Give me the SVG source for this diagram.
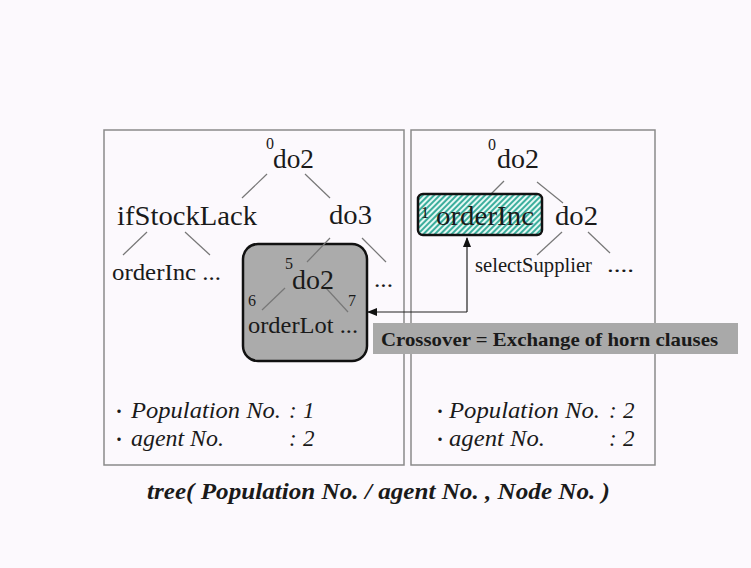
<svg xmlns="http://www.w3.org/2000/svg" width="751" height="568" viewBox="0 0 751 568">
<style>
.t{font-family:"Liberation Serif","Times New Roman",serif;fill:#1a1a1a}
.sup{font-family:"Liberation Serif","Times New Roman",serif;fill:#1a1a1a;font-size:16px}
.frame{fill:none;stroke:#8a8a8a;stroke-width:1.5}
.edge{stroke:#777;stroke-width:1.2;fill:none}
.it{font-family:"Liberation Serif","Times New Roman",serif;font-style:italic;fill:#1a1a1a;font-size:23px}
.dot{font-family:"Noto Sans CJK JP","Liberation Serif",sans-serif;font-style:normal;fill:#1a1a1a;font-size:16px}
</style>
<defs>
<pattern id="hatch" patternUnits="userSpaceOnUse" width="4" height="4" patternTransform="rotate(45)">
<rect width="4" height="4" fill="#e6f8f4"/>
<line x1="1" y1="0" x2="1" y2="4" stroke="#3cae9d" stroke-width="2"/>
</pattern>
<marker id="ah" markerUnits="userSpaceOnUse" markerWidth="10" markerHeight="8" refX="9" refY="4" orient="auto-start-reverse">
<path d="M0,0 L10,4 L0,8 Z" fill="#111"/>
</marker>
</defs>
<rect width="751" height="568" fill="#fcf9fd"/>

<g id="frames">
<rect class="frame" x="104" y="130" width="300" height="335"/>
<rect class="frame" x="411" y="130" width="244" height="335"/>
</g>

<g id="edges">
<line class="edge" x1="267" y1="174" x2="242" y2="198"/>
<line class="edge" x1="305" y1="174" x2="330" y2="198"/>
<line class="edge" x1="147" y1="232" x2="123" y2="255"/>
<line class="edge" x1="185" y1="232" x2="210" y2="255"/>
<line class="edge" x1="362" y1="238" x2="386" y2="262"/>
<line class="edge" x1="504" y1="181" x2="482" y2="203"/>
<line class="edge" x1="537" y1="182" x2="563" y2="203"/>
<line class="edge" x1="562" y1="232" x2="537" y2="255"/>
<line class="edge" x1="588" y1="232" x2="610" y2="253"/>
</g>

<g id="subtree-box">
<rect x="243" y="244" width="124" height="117" rx="15" fill="#ababab" stroke="#111" stroke-width="2.5"/>
<line class="edge" x1="330" y1="238" x2="307" y2="262"/>
<line class="edge" x1="285" y1="288" x2="262" y2="310"/>
<line class="edge" x1="326" y1="288" x2="348" y2="312"/>
<text class="sup" x="285" y="269">5</text>
<text class="t" x="292" y="289" font-size="28" textLength="42" lengthAdjust="spacingAndGlyphs">do2</text>
<text class="sup" x="248" y="306">6</text>
<text class="sup" x="348" y="306">7</text>
<text class="t" x="248" y="333" font-size="23" textLength="110" lengthAdjust="spacingAndGlyphs">orderLot ...</text>
</g>

<g id="left-tree">
<text class="sup" x="266" y="149">0</text>
<text class="t" x="273" y="168" font-size="28" textLength="41" lengthAdjust="spacingAndGlyphs">do2</text>
<text class="t" x="117" y="225" font-size="28" textLength="140" lengthAdjust="spacingAndGlyphs">ifStockLack</text>
<text class="t" x="329" y="224" font-size="28" textLength="43" lengthAdjust="spacingAndGlyphs">do3</text>
<text class="t" x="112" y="280" font-size="24" textLength="109" lengthAdjust="spacingAndGlyphs">orderInc ...</text>
<text class="t" x="374" y="287" font-size="24" textLength="19" lengthAdjust="spacingAndGlyphs">...</text>
</g>

<g id="right-tree">
<text class="sup" x="488" y="150">0</text>
<text class="t" x="497" y="168" font-size="28" textLength="42" lengthAdjust="spacingAndGlyphs">do2</text>
<g id="orderInc-node">
<rect x="418" y="194" width="124" height="41" rx="5" fill="url(#hatch)" stroke="#111" stroke-width="2.5"/>
<text class="sup" x="421" y="218">1</text>
<text class="t" x="436" y="225" font-size="28" textLength="98" lengthAdjust="spacingAndGlyphs">orderInc</text>
</g>
<text class="t" x="555" y="225" font-size="28" textLength="43" lengthAdjust="spacingAndGlyphs">do2</text>
<text class="t" x="475" y="272" font-size="21" textLength="117" lengthAdjust="spacingAndGlyphs">selectSupplier</text>
<text class="t" x="607" y="272" font-size="21" textLength="27" lengthAdjust="spacingAndGlyphs">....</text>
</g>

<g id="connectors">
<path d="M467,312 V238" fill="none" stroke="#222" stroke-width="1.2" marker-end="url(#ah)"/>
<path d="M467,312 H368" fill="none" stroke="#222" stroke-width="1.2" marker-end="url(#ah)"/>
</g>

<g id="crossover-label">
<rect x="373" y="323" width="365" height="31" fill="#a9a9a9"/>
<text class="t" x="381" y="346" font-size="19" font-weight="bold" textLength="337" lengthAdjust="spacingAndGlyphs">Crossover = Exchange of horn clauses</text>
</g>

<g id="left-info">
<text class="dot" x="111" y="417">・</text>
<text class="it" x="131" y="418" textLength="150" lengthAdjust="spacingAndGlyphs">Population No.</text>
<text class="it" x="289" y="418">:</text>
<text class="it" x="303" y="418">1</text>
<text class="dot" x="111" y="445">・</text>
<text class="it" x="131" y="446" textLength="93" lengthAdjust="spacingAndGlyphs">agent No.</text>
<text class="it" x="289" y="446">:</text>
<text class="it" x="303" y="446">2</text>
</g>

<g id="right-info">
<text class="dot" x="432" y="417">・</text>
<text class="it" x="449" y="418" textLength="151" lengthAdjust="spacingAndGlyphs">Population No.</text>
<text class="it" x="609" y="418">:</text>
<text class="it" x="623" y="418">2</text>
<text class="dot" x="432" y="445">・</text>
<text class="it" x="449" y="446" textLength="96" lengthAdjust="spacingAndGlyphs">agent No.</text>
<text class="it" x="609" y="446">:</text>
<text class="it" x="623" y="446">2</text>
</g>

<g id="caption">
<text class="t" x="147" y="499" font-size="23" font-weight="bold" font-style="italic" textLength="463" lengthAdjust="spacingAndGlyphs">tree( Population No. / agent No. , Node No. )</text>
</g>
</svg>
